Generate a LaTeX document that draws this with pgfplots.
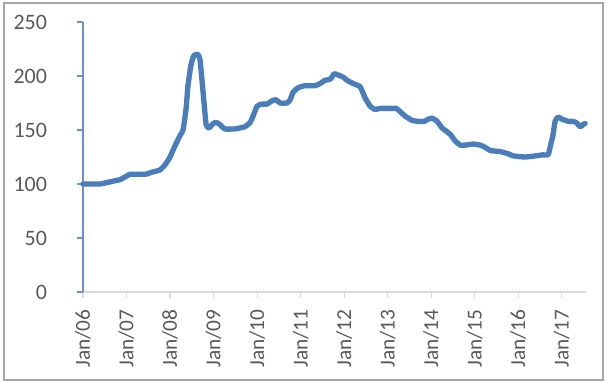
\documentclass[border=0pt]{standalone}
\usepackage{pgfplots}
\pgfplotsset{compat=1.18}
\usepackage{fontspec}
\setmainfont{Carlito}
\definecolor{lineblue}{HTML}{4A7EBB}
\definecolor{axblue}{HTML}{6F8FCB}
\definecolor{txt}{HTML}{595959}
\definecolor{framegray}{HTML}{A6A6A6}
\definecolor{xaxgray}{HTML}{D9D9D9}
\begin{document}
\begin{tikzpicture}[x=1pt,y=1pt]
\path[use as bounding box] (0,0) rectangle (458.25,286.5);
\draw[framegray, line width=0.9pt] (3,1.5) rectangle (452.25,284.25);
\begin{axis}[
  at={(62.25pt,67.5pt)}, anchor=south west,
  scale only axis, width=377.25pt, height=202.5pt,
  xmin=0, xmax=11.56, ymin=0, ymax=250,
  axis x line*=bottom, axis y line*=left,
  x axis line style={xaxgray, line width=0.9pt, -},
  y axis line style={axblue, line width=0.9pt, -},
  ytick={0,50,...,250},
  xtick={0,...,11},
  xticklabels={Jan/06,Jan/07,Jan/08,Jan/09,Jan/10,Jan/11,Jan/12,Jan/13,Jan/14,Jan/15,Jan/16,Jan/17},
  x tick label style={rotate=90, anchor=east, font=\fontsize{16}{18}\selectfont, text=txt},
  y tick label style={font=\fontsize{16.5}{18}\selectfont, text=txt},
  /pgf/number format/assume math mode=true,
  tick align=outside,
  major tick length=4.5pt,
  xtick style={xaxgray, line width=0.8pt},
  ytick style={axblue, line width=0.8pt},
  xticklabel shift=5pt, yticklabel shift=19pt,
  clip=false,
]
\addplot[lineblue, line width=4pt, line join=round, line cap=round, smooth, tension=0.3] coordinates {
(0,100) (0.39,100) (0.51,101) (0.74,103) (0.85,104) (0.99,107) (1.08,109) (1.43,109)
(1.59,111) (1.77,113) (1.89,118) (2.0,125) (2.11,135) (2.23,145) (2.30,150) (2.37,170)
(2.41,190) (2.48,210) (2.55,219) (2.64,220) (2.69,215) (2.76,185) (2.83,155) (2.90,152)
(2.99,156) (3.06,157) (3.15,155) (3.26,151) (3.49,151) (3.72,153) (3.84,157) (3.91,163)
(4.0,172) (4.11,174) (4.23,174) (4.34,177) (4.44,178) (4.53,175) (4.69,175) (4.76,178)
(4.83,185) (4.94,189) (5.10,191) (5.33,191) (5.45,193) (5.56,196) (5.68,197) (5.77,202)
(5.86,201) (5.98,199) (6.07,196) (6.21,193) (6.37,190) (6.48,180) (6.60,172) (6.71,169)
(6.83,170) (7.06,170) (7.20,170) (7.29,167) (7.40,163) (7.56,159) (7.70,158) (7.84,158)
(7.93,160) (8.02,161) (8.14,158) (8.25,152) (8.44,146) (8.55,140) (8.67,136) (8.78,136)
(8.97,137) (9.13,136) (9.24,134) (9.36,131) (9.59,130) (9.77,128) (9.89,126) (10.16,125)
(10.39,126) (10.57,127) (10.69,127) (10.74,135) (10.80,145) (10.85,158) (10.92,162)
(11.01,160) (11.15,158) (11.24,158) (11.33,157) (11.43,153) (11.49,155) (11.54,156)
};
\end{axis}
\end{tikzpicture}
\end{document}
